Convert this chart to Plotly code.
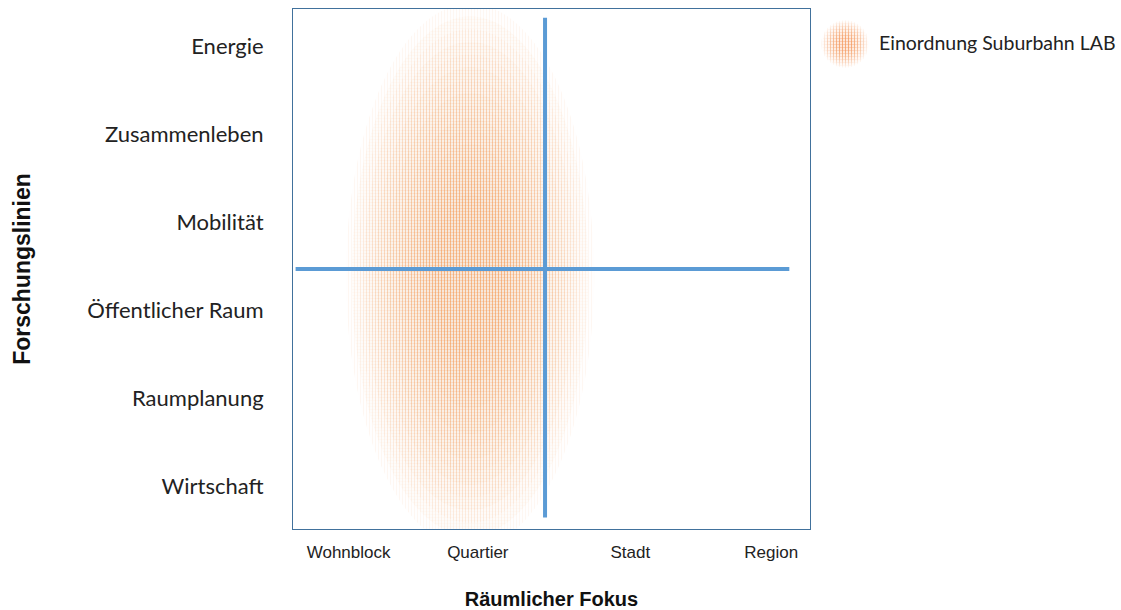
import numpy as np
import plotly.graph_objects as go

# ---- data ----
research_lines = ["Wirtschaft", "Raumplanung", "Öffentlicher Raum", "Mobilität", "Zusammenleben", "Energie"]
research_pos = [0, 1, 2, 3, 4, 5]
focus_labels = ["Wohnblock", "Quartier", "Stadt", "Region"]
focus_pos = [0.43, 1.43, 2.61, 3.70]

# cross lines
h_line_x = [0.02, 3.84]
h_line_y = [2.47, 2.47]
v_line_x = [1.95, 1.95]
v_line_y = [-0.36, 5.33]

# classification ellipse
ell_center = [1.37, 2.39]
ell_radius = [0.96, 3.1]
ell_name = "Einordnung Suburbahn LAB"

ORANGE = "#ED7D31"
BLUE = "#5B9BD5"
BORDER = "#41719C"

W, H = 1121, 610
ML, MR, MT, MB = 293, 5, 9, 81
PW = W - ML - MR
PH = H - MT - MB
main_dom_x = [0, 517 / PW]


def px_x(p):
    return (p - ML) / PW


def px_y(p):
    return (H - MB - p) / PH


fig = go.Figure()

t = np.linspace(0, 2 * np.pi, 241)
layers = np.linspace(1.0, 0.3, 16)


def add_gradient(cx, cy, rx, ry, xa, ya, op):
    for i, s in enumerate(layers):
        if i % 2 == 0:
            pat = dict(shape="|", fgcolor=ORANGE, bgcolor="rgba(255,255,255,0)",
                       fgopacity=op, size=3, solidity=0.4)
        else:
            pat = dict(shape=".", fgcolor=ORANGE, bgcolor="rgba(255,255,255,0)",
                       fgopacity=op, size=3, solidity=0.5)
        fig.add_trace(go.Scatter(
            x=cx + rx * s * np.cos(t), y=cy + ry * s * np.sin(t),
            xaxis=xa, yaxis=ya,
            mode="none", fill="toself",
            fillcolor="rgba(237,125,49,0)",
            fillpattern=pat,
            hoverinfo="skip", showlegend=False, name=ell_name,
        ))


add_gradient(ell_center[0], ell_center[1], ell_radius[0], ell_radius[1], "x", "y", 0.068)

fig.add_trace(go.Scatter(x=h_line_x, y=h_line_y, mode="lines",
                         line=dict(color=BLUE, width=4), showlegend=False, hoverinfo="skip"))
fig.add_trace(go.Scatter(x=v_line_x, y=v_line_y, mode="lines",
                         line=dict(color=BLUE, width=4), showlegend=False, hoverinfo="skip"))

# legend swatch
add_gradient(0, 0, 0.95, 0.95, "x2", "y2", 0.075)

fig.update_layout(
    width=W, height=H,
    margin=dict(l=ML, r=MR, t=MT, b=MB, autoexpand=False),
    plot_bgcolor="white", paper_bgcolor="white",
    showlegend=False,
    xaxis=dict(domain=main_dom_x, range=[0, 4], showgrid=False, zeroline=False,
               showline=True, mirror=True, linecolor=BORDER, linewidth=1,
               tickmode="array", tickvals=focus_pos, ticktext=focus_labels,
               ticks="outside", ticklen=8, tickcolor="rgba(0,0,0,0)",
               tickfont=dict(family="Liberation Sans, Arial", size=17, color="#222"),
               title=dict(text="Räumlicher Fokus", standoff=30,
                          font=dict(family="Liberation Sans, Arial", size=20, color="#111", weight="bold"))),
    yaxis=dict(domain=[0, 1], range=[-0.49, 5.43], showgrid=False, zeroline=False,
               showline=True, mirror=True, linecolor=BORDER, linewidth=1,
               tickmode="array", tickvals=research_pos, ticktext=research_lines,
               ticks="outside", ticklen=24, tickcolor="rgba(0,0,0,0)",
               tickfont=dict(family="Lato, Noto Sans", size=22, color="#222"),
               title=dict(text="Forschungslinien", standoff=50,
                          font=dict(family="Liberation Sans, Arial", size=23, color="#111", weight="bold"))),
    xaxis2=dict(domain=[px_x(820), px_x(870)], range=[-1, 1], visible=False, anchor="y2"),
    yaxis2=dict(domain=[px_y(69), px_y(19)], range=[-1, 1], visible=False, anchor="x2"),
    annotations=[dict(text=ell_name, xref="paper", yref="paper",
                      x=px_x(877), y=px_y(42), xanchor="left", yanchor="middle",
                      showarrow=False,
                      font=dict(family="Lato, Noto Sans", size=19.5, color="#222"))],
)

fig.write_html("out.html", config={"displayModeBar": False},
               post_script="document.body.style.margin='0px';")
